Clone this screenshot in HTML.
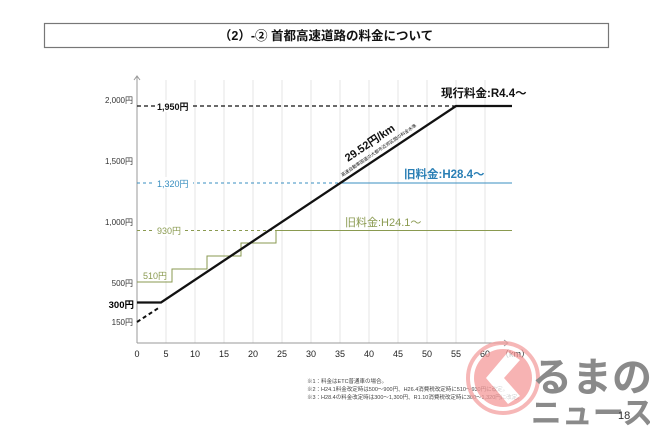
<!DOCTYPE html>
<html><head><meta charset="utf-8"><style>
body{margin:0;background:#fff}
svg{display:block}
text{font-family:"Liberation Sans","Noto Sans CJK JP",sans-serif}
</style></head><body>
<svg width="650" height="433" viewBox="0 0 650 433" xmlns="http://www.w3.org/2000/svg">
<rect x="44.5" y="23.5" width="564" height="24" fill="#fff" stroke="#777" stroke-width="1.2"/>
<text x="326" y="40" font-size="12.5" font-weight="bold" text-anchor="middle" fill="#111">（2）-② 首都高速道路の料金について</text>
<!-- grid -->
<g stroke="#e4e4e4" stroke-width="1">
<line x1="166" y1="80" x2="166" y2="343"/><line x1="195" y1="80" x2="195" y2="343"/><line x1="224" y1="80" x2="224" y2="343"/><line x1="253" y1="80" x2="253" y2="343"/><line x1="282" y1="80" x2="282" y2="343"/><line x1="311" y1="80" x2="311" y2="343"/><line x1="340" y1="80" x2="340" y2="343"/><line x1="369" y1="80" x2="369" y2="343"/><line x1="398" y1="80" x2="398" y2="343"/><line x1="427" y1="80" x2="427" y2="343"/><line x1="456" y1="80" x2="456" y2="343"/><line x1="485" y1="80" x2="485" y2="343"/>
</g>
<!-- axes -->
<g stroke="#999" stroke-width="1" fill="none">
<line x1="137" y1="76" x2="137" y2="343"/><polyline points="134,80 137,76 140,80"/>
<line x1="137" y1="343" x2="508" y2="343"/><polyline points="504,340 508,343 504,346"/>
</g>
<g font-size="8" fill="#333" text-anchor="end">
<text x="133" y="103">2,000円</text><text x="133" y="164">1,500円</text><text x="133" y="225">1,000円</text><text x="133" y="286">500円</text><text x="133" y="325">150円</text>
</g>
<text x="134" y="308" font-size="9.5" font-weight="bold" text-anchor="end" fill="#000">300円</text>
<g font-size="9" fill="#222" text-anchor="middle">
<text x="137" y="357">0</text><text x="166" y="357">5</text><text x="195" y="357">10</text><text x="224" y="357">15</text><text x="253" y="357">20</text><text x="282" y="357">25</text><text x="311" y="357">30</text><text x="340" y="357">35</text><text x="369" y="357">40</text><text x="398" y="357">45</text><text x="427" y="357">50</text><text x="456" y="357">55</text><text x="485" y="357">60</text><text x="515" y="357">（km）</text>
</g>
<!-- green -->
<line x1="137" y1="230.5" x2="278" y2="230.5" stroke="#8a9a50" stroke-dasharray="3,3"/>
<polyline points="137,282 172,282 172,269 207,269 207,256 241,256 241,243 276,243 276,230.5 512,230.5" fill="none" stroke="#8a9a50" stroke-width="1"/>
<rect x="142" y="271" width="28" height="10" fill="#fff"/>
<text x="143" y="279" font-size="9" fill="#8a9a50">510円</text>
<rect x="155" y="225" width="30" height="11" fill="#fff"/>
<text x="157" y="234" font-size="9" fill="#8a9a50">930円</text>
<text x="345" y="226" font-size="11" fill="#8a9a50">旧料金:H24.1～</text>
<!-- blue -->
<line x1="137" y1="183" x2="340" y2="183" stroke="#3a8fc0" stroke-dasharray="3,3"/>
<line x1="340" y1="183" x2="512" y2="183" stroke="#3a8fc0" stroke-width="1"/>
<rect x="155" y="177" width="38" height="11" fill="#fff"/>
<text x="157" y="187" font-size="9" fill="#3a8fc0">1,320円</text>
<text x="404" y="178" font-size="11.5" font-weight="bold" fill="#2a7fb5">旧料金:H28.4～</text>
<!-- black -->
<line x1="137" y1="106" x2="456" y2="106" stroke="#111" stroke-width="1.3" stroke-dasharray="4,3"/>
<rect x="155" y="100" width="38" height="12" fill="#fff"/>
<text x="157" y="110" font-size="9" font-weight="bold" fill="#111">1,950円</text>
<line x1="137" y1="322" x2="160" y2="307" stroke="#111" stroke-width="2" stroke-dasharray="4,3"/>
<polyline points="137,302.5 161,302.5 456,106 512,106" fill="none" stroke="#111" stroke-width="2.3"/>
<text x="441" y="97" font-size="11.5" font-weight="bold" fill="#111">現行料金:R4.4～</text>
<g transform="translate(348,162) rotate(-34)">
<text x="0" y="0" font-size="11" font-weight="bold" fill="#111">29.52円/km</text>
<text x="-13" y="9" font-size="4.5" fill="#111">高速自動車国道の大都市近郊区間の料金水準</text>
</g>
<!-- footnotes -->
<g font-size="5.5" fill="#444">
<text x="307" y="383">※1：料金はETC普通車の場合。</text>
<text x="307" y="391">※2：H24.1料金改定時は500～900円、H26.4消費税改定時に510～930円に改定。</text>
<text x="307" y="399">※3：H28.4の料金改定時は300～1,300円、R1.10消費税改定時に300～1,320円に改定。</text>
</g>
<!-- logo -->
<g opacity="0.75">
<circle cx="503" cy="378" r="35" fill="none" stroke="#f4a0a0" stroke-width="4"/>
<circle cx="503" cy="378" r="29" fill="#f59a9a"/>
<polygon points="508,352 486,378 508,404 520,396 504,378 520,360" fill="#fff"/>
</g>
<text x="592" y="391" font-size="40" font-weight="bold" fill="#8a8a8a" text-anchor="middle">るまの</text>
<text x="592" y="424" font-size="31" font-weight="bold" fill="#8a8a8a" text-anchor="middle">ニュース</text>
<text x="618" y="419" font-size="11" fill="#333">18</text>
</svg>
</body></html>
